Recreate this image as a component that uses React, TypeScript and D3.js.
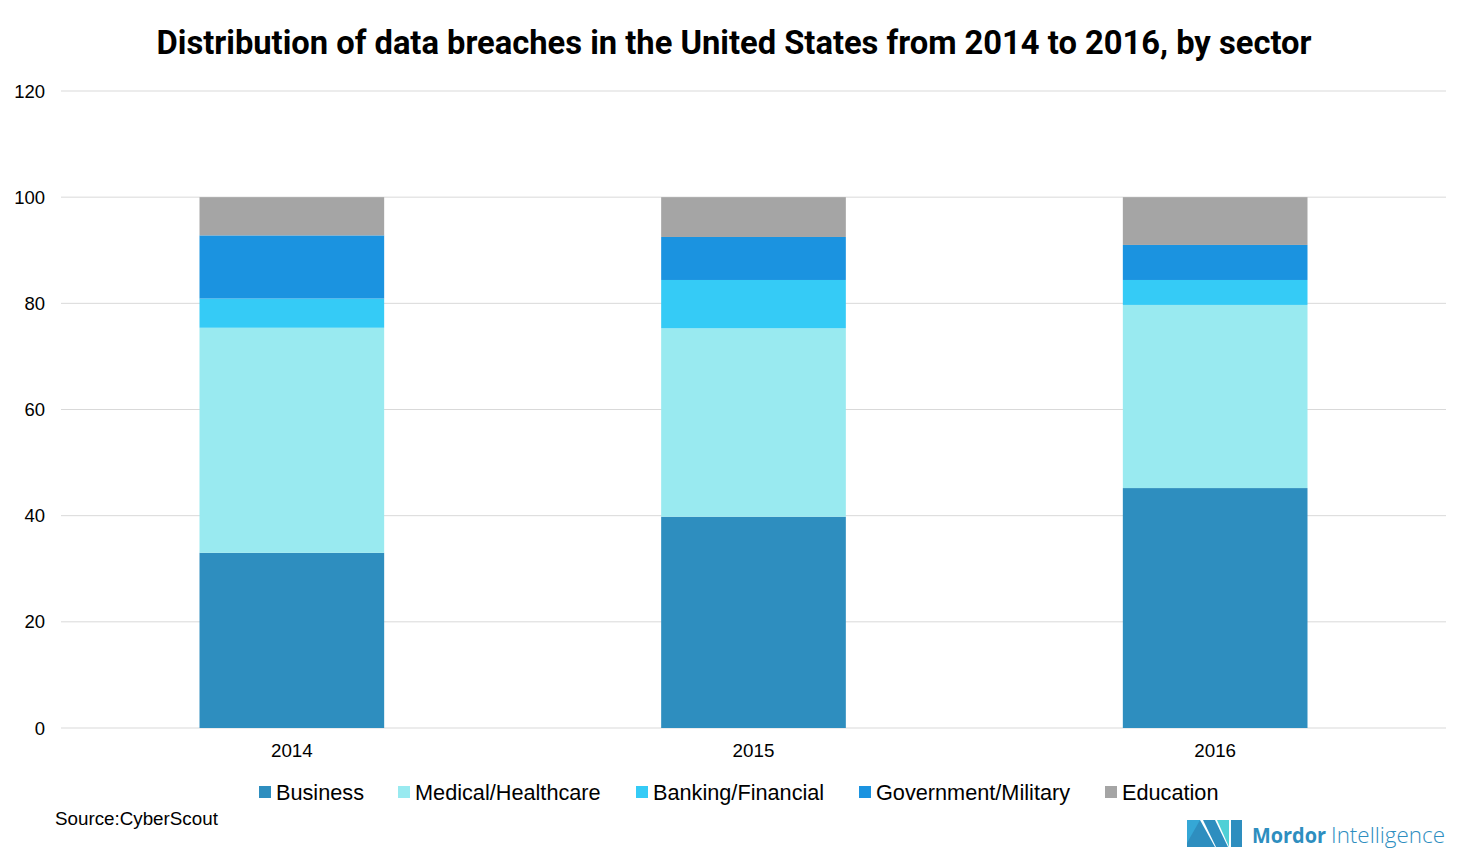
import React from "react";
import * as d3 from "d3";

const years = ["2014", "2015", "2016"];
const sectors = ["Business", "Medical/Healthcare", "Banking/Financial", "Government/Military", "Education"];
const business = [33.0, 39.8, 45.2];
const medical = [42.4, 35.5, 34.5];
const banking = [5.5, 9.1, 4.7];
const government = [11.9, 8.1, 6.6];
const education = [7.2, 7.5, 9.0];
const colors = ["#2E8EBF", "#99EAF0", "#35CBF6", "#1B93E0", "#A5A5A5"];
const yTicks = [0, 20, 40, 60, 80, 100, 120];

const W = 1469;
const H = 850;
const left = 61;
const right = 1446;
const top = 91;
const bottom = 728;

export default function App() {
  const rows = years.map((y, i) => ({
    year: y,
    Business: business[i],
    "Medical/Healthcare": medical[i],
    "Banking/Financial": banking[i],
    "Government/Military": government[i],
    Education: education[i],
  }));
  const stack = d3.stack<any>().keys(sectors);
  const series = stack(rows);
  const x = d3.scaleBand().domain(years).range([left, right]).paddingInner(0.6).paddingOuter(0.3);
  const y = d3.scaleLinear().domain([0, 120]).range([bottom, top]);
  const color = d3.scaleOrdinal<string, string>().domain(sectors).range(colors);

  const legendX = [259, 398, 636, 859, 1105];
  const font = "'Liberation Sans', Arial, sans-serif";

  return (
    <svg width={W} height={H} style={{ position: "absolute", left: 0, top: 0, background: "#fff" }}>
      <rect width={W} height={H} fill="#fff" />
      <text
        x={734}
        y={54}
        textAnchor="middle"
        fontFamily="'Liberation Sans Narrow', 'Roboto', sans-serif"
        fontWeight="bold"
        fontSize={34}
        textLength={1155}
        lengthAdjust="spacingAndGlyphs"
        fill="#000"
      >
        Distribution of data breaches in the United States from 2014 to 2016, by sector
      </text>
      {yTicks.map((t) => (
        <g key={t}>
          <line x1={left} x2={right} y1={y(t)} y2={y(t)} stroke="#D9D9D9" strokeWidth={1} />
          <text x={45} y={y(t) + 6.5} textAnchor="end" fontFamily={font} fontSize={18.5} fill="#000">
            {t}
          </text>
        </g>
      ))}
      {series.map((s) => (
        <g key={s.key} fill={color(s.key)}>
          {s.map((d: any) => (
            <rect
              key={d.data.year}
              x={x(d.data.year)}
              width={x.bandwidth()}
              y={y(d[1])}
              height={y(d[0]) - y(d[1])}
            />
          ))}
        </g>
      ))}
      {years.map((yr) => (
        <text
          key={yr}
          x={(x(yr) as number) + x.bandwidth() / 2}
          y={757}
          textAnchor="middle"
          fontFamily={font}
          fontSize={18.8}
          fill="#000"
        >
          {yr}
        </text>
      ))}
      {sectors.map((s, i) => (
        <g key={s}>
          <rect x={legendX[i]} y={786} width={12} height={12} fill={colors[i]} />
          <text x={legendX[i] + 17} y={800} fontFamily={font} fontSize={21.7} fill="#000">
            {s}
          </text>
        </g>
      ))}
      <text x={55} y={825} fontFamily={font} fontSize={18.8} fill="#000">
        Source:CyberScout
      </text>
      <g>
        <polygon points="1187,820 1200,820 1215,847 1187,847" fill="#2E8EBF" />
        <polygon points="1187,820 1200,820 1187,843" fill="#35A7D6" />
        <polygon points="1203,820 1215,820 1228,847 1216,847" fill="#2E8EBF" />
        <polygon points="1217,820 1229,820 1229,847" fill="#4FD0D6" />
        <polygon points="1231,820 1242,820 1242,847 1231,847" fill="#2E8EBF" />
        <text x={1252} y={843} fontFamily="'Open Sans', sans-serif" fontWeight="bold" fontSize={22} fill="#2E8EBF" textLength={74} lengthAdjust="spacingAndGlyphs">
          Mordor
        </text>
        <text x={1331} y={843} fontFamily="'Open Sans', sans-serif" fontWeight="300" fontSize={22} fill="#2E8EBF" textLength={114} lengthAdjust="spacingAndGlyphs">
          Intelligence
        </text>
      </g>
    </svg>
  );
}
